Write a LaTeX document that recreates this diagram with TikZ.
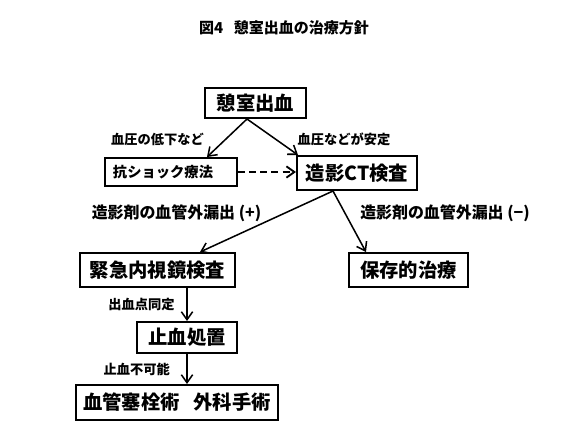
\documentclass[tikz,border=0pt]{standalone}
\usepackage{fontspec}
\setmainfont{Noto Sans CJK JP}
\usepackage{tikz}
\usetikzlibrary{arrows.meta, positioning, calc}
\tikzstyle{box} = [
    rectangle, draw=black, line width=1.7pt, inner sep=0pt,
    text centered, font=\bfseries\fontsize{16.5}{18}\selectfont
]
\tikzstyle{lbl} = [inner sep=0pt, font=\bfseries\fontsize{11.3}{13}\selectfont]
\tikzstyle{biglbl} = [inner sep=0pt, font=\bfseries\fontsize{13.6}{15}\selectfont]
\tikzstyle{arrow} = [-{Straight Barb[length=2.4mm, width=3.4mm]}, line width=1.3pt]

\begin{document}
\begin{tikzpicture}[x=0.03cm, y=-0.03cm]
        \useasboundingbox (0,0) rectangle (580,441);

        % Title
        \node[font=\bfseries\fontsize{12.8}{14}\selectfont] (ttl) at (284,28)
            {図4\hspace{0.7em}憩室出血の治療方針};

        % Top row
        \node[box, minimum width=3.03cm, minimum height=0.9cm] (bleed)
            at (255.5,103) {憩室出血};
        \node[box, minimum width=3.96cm, minimum height=0.84cm,
              text width=3.48cm, inner xsep=0.24cm, align=left,
              font=\bfseries\fontsize{12.2}{14}\selectfont] (shock)
            at (171,172) {抗ショック療法};
        \node[box, minimum width=3.6cm, minimum height=1.02cm] (ct)
            at (357,173) {造影CT検査};

        % Second row
        \node[box, minimum width=4.65cm, minimum height=1.02cm] (endo)
            at (157.5,270) {緊急内視鏡検査};
        \node[box, minimum width=3.57cm, minimum height=1.02cm] (cons)
            at (408.5,270) {保存的治療};

        % Lower column
        \node[box, minimum width=3cm, minimum height=0.93cm] (stop)
            at (187,337.5) {止血処置};
        \node[box, minimum width=6.06cm, minimum height=1.05cm] (embo)
            at (177,402.5) {血管塞栓術\hspace{0.7em}外科手術};

        % Labels
        \node[lbl] (lowbp) at (157.5,139) {血圧の低下など};
        \node[lbl] (stable) at (344,139) {血圧などが安定};
        \node[biglbl] (leakp) at (176.5,213) {造影剤の血管外漏出 (+)};
        \node[biglbl] (leakm) at (445,213) {造影剤の血管外漏出 (−)};

        % Arrows
        \coordinate (fork) at ($(bleed.south)+(-8.5,0)$);
        \draw[arrow] (fork) -- ($(shock.north)+(36,0)$);
        \draw[arrow] (fork) -- ($(ct.north west)+(2,0)$);
        \draw[arrow, line width=1.6pt, dash pattern=on 6pt off 3.5pt]
            (shock.east) -- (shock.east -| ct.west);
        \coordinate (ctfork) at ($(ct.south)+(-24,0)$);
        \draw[arrow] (ctfork) -- ($(endo.north)+(42.5,0)$);
        \draw[arrow] (ctfork) -- ($(cons.north west)+(18,0)$);
        \draw[arrow] (endo.south -| stop.north) -- node[lbl, left=10pt]
            {出血点同定} (stop.north);
        \draw[arrow] (stop.south) -- node[lbl, left=14pt]
            {止血不可能} (stop.south |- embo.north);
    \end{tikzpicture}
\end{document}
